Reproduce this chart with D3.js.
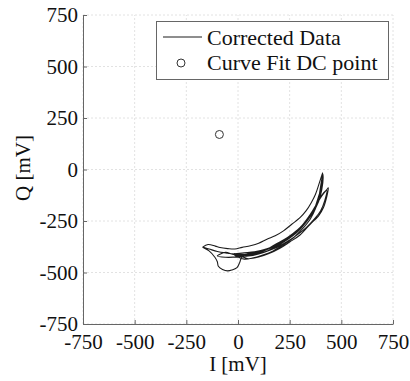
<!DOCTYPE html>
<html>
<head>
<meta charset="utf-8">
<script src="https://cdn.jsdelivr.net/npm/d3@7"></script>
<style>
  body { margin: 0; background: #fff; }
  svg text { font-family: "Liberation Serif", "Times New Roman", serif; fill: #111; }
</style>
</head>
<body>
<svg id="chart" width="410" height="381"></svg>
<script>
// tick values (mV)
const xTicks = [-750, -500, -250, 0, 250, 500, 750];
const yTicks = [-750, -500, -250, 0, 250, 500, 750];

// corrected I/Q trace [I, Q] in mV
const correctedData = [
  [-171, -377], [-145, -364], [-110, -372], [-87, -379], [-50, -384], [-15, -386],
  [20, -378], [60, -370], [100, -358], [140, -338], [180, -322], [220, -298],
  [260, -266], [300, -234], [330, -200], [355, -160], [375, -120], [392, -70],
  [405, -30], [410, -16],
  [400, -80], [390, -140], [375, -190], [350, -240], [310, -290], [270, -330],
  [220, -365], [170, -395], [120, -415], [70, -430], [30, -435], [0, -425], [-20, -412],
  [20, -405], [80, -400], [140, -385], [200, -360], [260, -320], [310, -272],
  [350, -218], [385, -160], [410, -122], [430, -97], [437, -89],
  [430, -130], [413, -186], [390, -225], [348, -267], [300, -318], [250, -352],
  [203, -382], [150, -408], [100, -425], [50, -433], [19, -425],
  [8, -452], [-5, -476], [-30, -488], [-50, -492], [-75, -485], [-95, -470],
  [-100, -448], [-111, -427], [-140, -395], [-171, -377],
  [-140, -386], [-100, -398], [-50, -406], [0, -412], [60, -408], [120, -395],
  [180, -372], [240, -340], [290, -300], [330, -256], [365, -205], [390, -155],
  [405, -100], [412, -40], [410, -22],
  [402, -90], [388, -137], [370, -190], [340, -240], [300, -285], [250, -330],
  [200, -366], [150, -392], [100, -410], [50, -420], [10, -418], [-30, -410],
  [-60, -402], [-100, -420], [-60, -426], [0, -424],
  [60, -415], [120, -398], [180, -364], [240, -330], [290, -292], [335, -242],
  [370, -192], [395, -142], [415, -112], [430, -100],
  [420, -150], [400, -200], [370, -240], [330, -282], [280, -322], [220, -360],
  [160, -390], [100, -410], [40, -420], [-10, -418],
  [40, -410], [100, -400], [160, -380], [220, -350], [280, -310], [325, -262],
  [360, -212], [385, -165], [400, -120], [408, -70],
  [398, -120], [380, -175], [355, -220], [315, -268], [265, -312], [210, -350],
  [150, -384], [90, -404], [30, -414], [-20, -408]
];

// curve fit DC point [I, Q]
const dcPoint = [-90, 170];

const legendLabels = ["Corrected Data", "Curve Fit DC point"];

const svg = d3.select("#chart");
const font = 21;

const x = d3.scaleLinear().domain([-750, 750]).range([83, 393]);
const y = d3.scaleLinear().domain([-750, 750]).range([324, 15]);

// grid
svg.append("g")
  .selectAll("line")
  .data(xTicks)
  .join("line")
  .attr("x1", d => x(d)).attr("x2", d => x(d))
  .attr("y1", y(-750)).attr("y2", y(750))
  .attr("stroke", "#e2e2e2")
  .attr("stroke-dasharray", "2,2");

svg.append("g")
  .selectAll("line")
  .data(yTicks)
  .join("line")
  .attr("y1", d => y(d)).attr("y2", d => y(d))
  .attr("x1", x(-750)).attr("x2", x(750))
  .attr("stroke", "#e2e2e2")
  .attr("stroke-dasharray", "2,2");

// axes (ticks inside like matlab), plain hyphen minus
const fmt = d => String(d);

const xAxis = svg.append("g")
  .attr("transform", `translate(0,${y(-750)})`)
  .call(d3.axisBottom(x).tickValues(xTicks).tickFormat(fmt).tickSizeInner(-4).tickSizeOuter(0).tickPadding(10));

const yAxis = svg.append("g")
  .attr("transform", `translate(${x(-750)},0)`)
  .call(d3.axisLeft(y).tickValues(yTicks).tickFormat(fmt).tickSizeInner(-4).tickSizeOuter(0).tickPadding(5));

[xAxis, yAxis].forEach(a => {
  a.select(".domain").attr("stroke", "#666");
  a.selectAll(".tick line").attr("stroke", "#666");
  a.selectAll("text")
    .attr("font-family", "Liberation Serif")
    .attr("font-size", font)
    .attr("fill", "#111");
});

// axis titles
svg.append("text")
  .attr("x", 238).attr("y", 371)
  .attr("text-anchor", "middle")
  .attr("font-size", font)
  .text("I [mV]");

svg.append("text")
  .attr("transform", "translate(30,168) rotate(-90)")
  .attr("text-anchor", "middle")
  .attr("font-size", font)
  .text("Q [mV]");

// the trace
const line = d3.line().x(d => x(d[0])).y(d => y(d[1])).curve(d3.curveCatmullRom.alpha(0.5));

svg.append("path")
  .datum(correctedData)
  .attr("d", line)
  .attr("fill", "none")
  .attr("stroke", "#1c1c1c")
  .attr("stroke-width", 1.1);

// DC point
svg.append("circle")
  .attr("cx", x(dcPoint[0]))
  .attr("cy", y(dcPoint[1]))
  .attr("r", 4)
  .attr("fill", "none")
  .attr("stroke", "#333")
  .attr("stroke-width", 1);

// legend
const leg = svg.append("g");
leg.append("rect")
  .attr("x", 156.5).attr("y", 21.5)
  .attr("width", 232).attr("height", 58)
  .attr("fill", "#fff")
  .attr("stroke", "#666");

leg.append("line")
  .attr("x1", 163).attr("x2", 202)
  .attr("y1", 37).attr("y2", 37)
  .attr("stroke", "#1c1c1c");

leg.append("circle")
  .attr("cx", 181).attr("cy", 63).attr("r", 4)
  .attr("fill", "none").attr("stroke", "#333");

leg.selectAll("text.lab")
  .data(legendLabels)
  .join("text")
  .attr("class", "lab")
  .attr("x", 207)
  .attr("y", (d, i) => 45 + i * 25)
  .attr("font-size", 22)
  .text(d => d);
</script>
</body>
</html>
